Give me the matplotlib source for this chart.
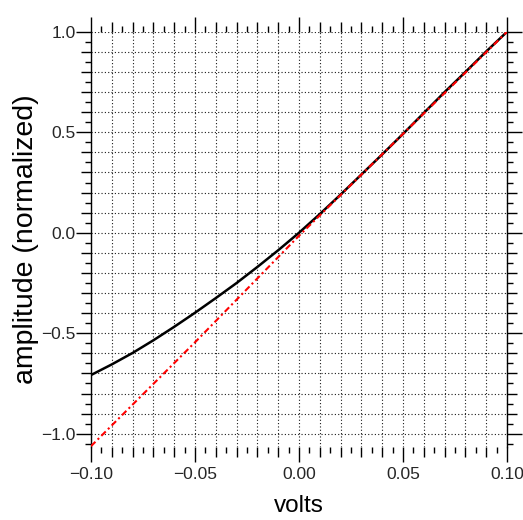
import numpy as np
import matplotlib
matplotlib.use("Agg")
import matplotlib.pyplot as plt
from matplotlib.ticker import MultipleLocator, FuncFormatter

plt.rcParams['font.family'] = ['Liberation Sans', 'DejaVu Sans']

volts = [-0.10, -0.09, -0.08, -0.07, -0.06, -0.05, -0.04, -0.03, -0.02, -0.01,
         0.00, 0.01, 0.02, 0.03, 0.04, 0.05, 0.06, 0.07, 0.08, 0.09, 0.10]
amplitude = [-0.708, -0.655, -0.598, -0.535, -0.468, -0.398, -0.325, -0.250, -0.170, -0.087,
             0.000, 0.093, 0.190, 0.290, 0.390, 0.492, 0.596, 0.700, 0.800, 0.902, 1.000]
fit_volts = [-0.10, -0.05, 0.00, 0.05, 0.10]
fit_amplitude = [-1.062, -0.545, -0.015, 0.492, 1.000]

xlabel_text = "volts"
ylabel_text = "amplitude (normalized)"

fig = plt.figure(figsize=(5.23, 5.20), dpi=100)
ax = fig.add_axes([0.174, 0.1408, 0.7954, 0.798])

ax.plot(volts, amplitude, color='black', lw=1.8, zorder=3)
ax.plot(fit_volts, fit_amplitude, color='red', lw=1.5, ls=(0, (3, 1.5, 1, 1.5)), zorder=4)

ax.set_xlim(-0.1, 0.1)
ax.set_ylim(-1.065, 1.0)

# grid lines sit on the "major" ticks (0.01 / 0.1); labels only every 0.05 / 0.5
ax.xaxis.set_major_locator(MultipleLocator(0.01))
ax.xaxis.set_minor_locator(MultipleLocator(0.005))
ax.yaxis.set_major_locator(MultipleLocator(0.1))
ax.yaxis.set_minor_locator(MultipleLocator(0.05))


def fmt_x(v, pos):
    if abs(round(v / 0.05) * 0.05 - v) < 1e-9:
        return f"{v:.2f}".replace('-', '\u2212')
    return ''


def fmt_y(v, pos):
    if abs(round(v / 0.5) * 0.5 - v) < 1e-9:
        s = f"{v:.1f}"
        if s == '-0.0':
            s = '0.0'
        return s.replace('-', '\u2212')
    return ''


ax.xaxis.set_major_formatter(FuncFormatter(fmt_x))
ax.yaxis.set_major_formatter(FuncFormatter(fmt_y))

ax.grid(which='major', color='0.1', lw=0.8, ls=(0, (1, 2)))

ax.tick_params(which='both', direction='out', top=True, bottom=True, left=True, right=True,
               width=1.0, color='black')
ax.tick_params(which='major', length=7.2, labelsize=12.5, labelcolor='0.15')
ax.tick_params(which='minor', length=4.0)
ax.tick_params(axis='y', pad=4)
ax.tick_params(axis='x', pad=7)

for s in ['top', 'bottom']:
    ax.spines[s].set_visible(False)
for s in ['left', 'right']:
    ax.spines[s].set_linewidth(1.0)

# long ticks at the labelled positions
for axis, step in [(ax.xaxis, 0.05), (ax.yaxis, 0.5)]:
    locs = axis.get_majorticklocs()
    for tick, loc in zip(axis.get_major_ticks(), locs):
        if abs(round(loc / step) * step - loc) < 1e-9:
            tick.tick1line.set_markersize(11.0)
            tick.tick2line.set_markersize(11.0)

ax.set_xlabel(xlabel_text, fontsize=17.5, va='center')
ax.set_ylabel(ylabel_text, fontsize=20.5, va='center')
ax.xaxis.set_label_coords(0.5, -0.143)
ax.yaxis.set_label_coords(-0.157, 0.5)

fig.savefig("out.png", dpi=100)
